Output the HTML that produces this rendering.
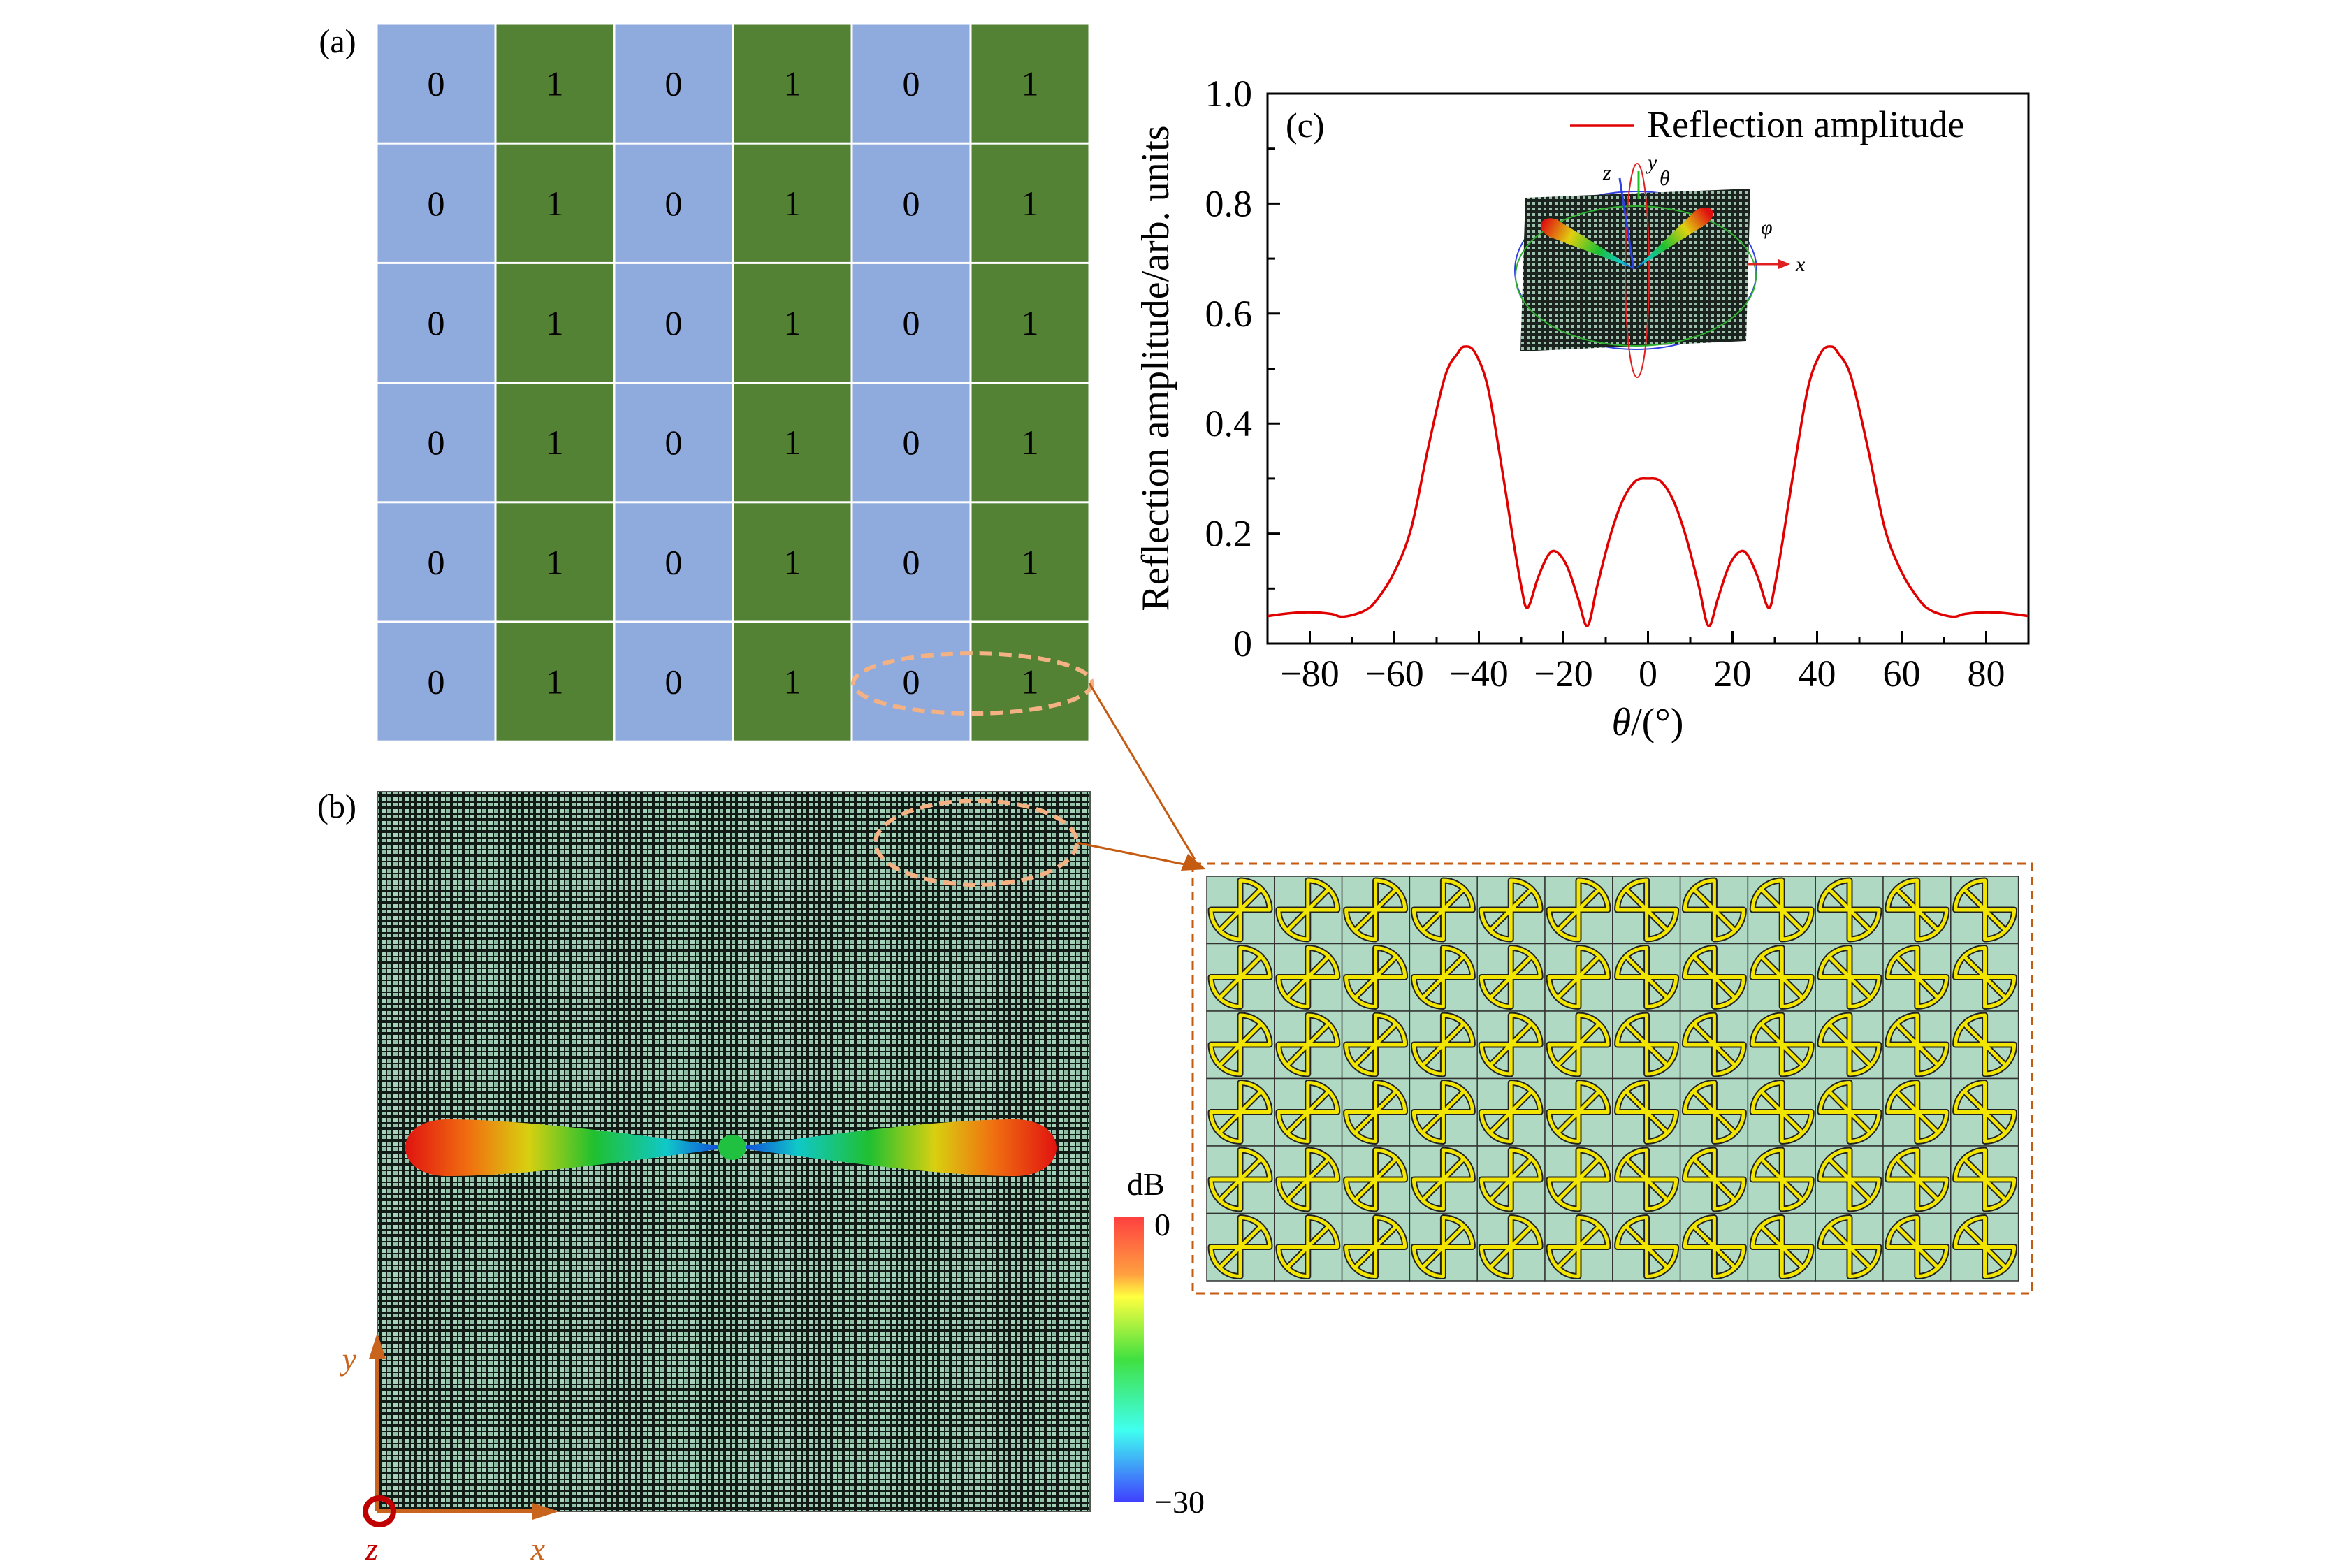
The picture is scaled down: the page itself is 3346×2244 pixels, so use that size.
<!DOCTYPE html>
<html><head><meta charset="utf-8">
<style>
html,body{margin:0;padding:0;background:#fff;}
svg{display:block;font-family:"Liberation Serif",serif;}
</style></head>
<body>
<svg id="root" width="3346" height="2244" viewBox="0 0 3346 2244" xmlns="http://www.w3.org/2000/svg">
<defs>
  <pattern id="mesh" width="17" height="17" patternUnits="userSpaceOnUse">
    <rect width="17" height="17" fill="#111a15"/>
    <rect x="2" y="2" width="6" height="6" fill="#a6d2ba"/>
    <rect x="10" y="2" width="5" height="6" fill="#8fbca4"/>
    <rect x="2" y="10" width="6" height="5" fill="#93c0a8"/>
    <rect x="10" y="10" width="5" height="5" fill="#a6d2ba"/>
  </pattern>
  <pattern id="mesh2" width="8" height="8" patternUnits="userSpaceOnUse">
    <rect width="8" height="8" fill="#1a231e"/>
    <rect x="1" y="1" width="4" height="4" fill="#9cc0ac"/>
  </pattern>
  <linearGradient id="lobeL" x1="577" y1="0" x2="1048" y2="0" gradientUnits="userSpaceOnUse">
    <stop offset="0" stop-color="#e01010"/><stop offset="0.2" stop-color="#f07010"/>
    <stop offset="0.38" stop-color="#d8d010"/><stop offset="0.58" stop-color="#20c030"/>
    <stop offset="0.8" stop-color="#10c8c8"/><stop offset="1" stop-color="#1030e0"/>
  </linearGradient>
  <linearGradient id="lobeR" x1="1515" y1="0" x2="1048" y2="0" gradientUnits="userSpaceOnUse">
    <stop offset="0" stop-color="#e01010"/><stop offset="0.2" stop-color="#f07010"/>
    <stop offset="0.38" stop-color="#d8d010"/><stop offset="0.58" stop-color="#20c030"/>
    <stop offset="0.8" stop-color="#10c8c8"/><stop offset="1" stop-color="#1030e0"/>
  </linearGradient>
  <linearGradient id="cbar" x1="0" y1="0" x2="0" y2="1">
    <stop offset="0" stop-color="#ff4040"/><stop offset="0.2" stop-color="#ffa040"/>
    <stop offset="0.28" stop-color="#ffff40"/><stop offset="0.5" stop-color="#40e040"/>
    <stop offset="0.75" stop-color="#40fff0"/><stop offset="1" stop-color="#4040ff"/>
  </linearGradient>
  <linearGradient id="ilobeL" x1="2210" y1="315" x2="2340" y2="385" gradientUnits="userSpaceOnUse">
    <stop offset="0" stop-color="#e01010"/><stop offset="0.3" stop-color="#e0d010"/>
    <stop offset="0.6" stop-color="#20c030"/><stop offset="0.85" stop-color="#10c8c8"/><stop offset="1" stop-color="#1030e0"/>
  </linearGradient>
  <linearGradient id="ilobeR" x1="2445" y1="305" x2="2340" y2="385" gradientUnits="userSpaceOnUse">
    <stop offset="0" stop-color="#e01010"/><stop offset="0.3" stop-color="#e0d010"/>
    <stop offset="0.6" stop-color="#20c030"/><stop offset="0.85" stop-color="#10c8c8"/><stop offset="1" stop-color="#1030e0"/>
  </linearGradient>
  <g id="uc">
    <rect width="96.8" height="96.5" fill="#afd9c3" stroke="#333" stroke-width="1.5"/>
    <g fill="none" stroke="#222" stroke-width="9" stroke-linejoin="round">
      <path d="M48,48 L48,6 A42,42 0 0 1 90,48 Z M48,48 L77,19"/>
      <path d="M48,48 L48,90 A42,42 0 0 1 6,48 Z M48,48 L19,77"/>
    </g>
    <g fill="none" stroke="#f2e600" stroke-width="5" stroke-linejoin="round">
      <path d="M48,48 L48,6 A42,42 0 0 1 90,48 Z M48,48 L77,19"/>
      <path d="M48,48 L48,90 A42,42 0 0 1 6,48 Z M48,48 L19,77"/>
    </g>
  </g>
</defs>

<!-- Panel (a) -->
<text x="483" y="75" font-size="48" text-anchor="middle">(a)</text>
<g id="grid-a"></g>
<ellipse cx="1392" cy="978" rx="171" ry="43" fill="none" stroke="#f4b183" stroke-width="6" stroke-dasharray="18,10"/>

<!-- Panel (b) -->
<text x="482" y="1170" font-size="48" text-anchor="middle">(b)</text>
<rect x="540" y="1133" width="1020" height="1030" fill="url(#mesh)" stroke="#555" stroke-width="2"/>
<ellipse cx="1397" cy="1206" rx="144" ry="60" fill="none" stroke="#f4b183" stroke-width="6" stroke-dasharray="18,10"/>
<path d="M1048,1642 C940,1628 760,1602 640,1602 C560,1602 560,1683 640,1683 C760,1683 940,1656 1048,1642 Z" fill="url(#lobeL)"/>
<path d="M1048,1642 C1156,1628 1336,1602 1452,1602 C1532,1602 1532,1683 1452,1683 C1336,1683 1156,1656 1048,1642 Z" fill="url(#lobeR)"/>
<ellipse cx="1048" cy="1642" rx="20" ry="18" fill="#20c040"/>
<rect x="1594" y="1742" width="43" height="407" fill="url(#cbar)"/>
<text x="1640" y="1710" font-size="46" text-anchor="middle">dB</text>
<text x="1652" y="1768" font-size="46">0</text>
<text x="1652" y="2165" font-size="46">−30</text>
<g>
  <line x1="540" y1="2163" x2="540" y2="1940" stroke="#c8641e" stroke-width="6"/>
  <polygon points="540,1907 528,1945 552,1945" fill="#c8641e"/>
  <line x1="540" y1="2163" x2="770" y2="2163" stroke="#c8641e" stroke-width="6"/>
  <polygon points="800,2163 762,2151 762,2175" fill="#c8641e"/>
  <ellipse cx="543" cy="2163" rx="20" ry="19" fill="none" stroke="#c00000" stroke-width="8"/>
  <text x="500" y="1960" font-size="46" font-style="italic" fill="#c8641e" text-anchor="middle">y</text>
  <text x="770" y="2232" font-size="46" font-style="italic" fill="#c8641e" text-anchor="middle">x</text>
  <text x="532" y="2232" font-size="46" font-style="italic" fill="#c00000" text-anchor="middle">z</text>
</g>

<!-- connectors -->
<line x1="1559" y1="978" x2="1710" y2="1230" stroke="#c55a11" stroke-width="3"/>
<line x1="1541" y1="1206" x2="1700" y2="1238" stroke="#c55a11" stroke-width="3"/>
<polygon points="1726,1244 1690,1246 1700,1222" fill="#c55a11"/>

<!-- zoom box -->
<rect x="1707" y="1236" width="1201" height="615" fill="none" stroke="#c55a11" stroke-width="3" stroke-dasharray="12,8"/>
<g id="cells"></g>

<!-- Panel (c) -->
<g id="chart">
  <g>
    <ellipse cx="2341" cy="387" rx="173" ry="113" fill="none" stroke="#3040e0" stroke-width="2"/>
    <polygon points="2183,283 2505,270 2499,488 2176,503" fill="url(#mesh2)"/>
    <ellipse cx="2341" cy="395" rx="172" ry="100" fill="none" stroke="#30b030" stroke-width="2"/>
    <ellipse cx="2343" cy="387" rx="17" ry="153" fill="none" stroke="#e02020" stroke-width="2"/>
    <path d="M2340,385 L2220,340 C2196,330 2202,306 2228,314 L2340,385 Z" fill="url(#ilobeL)"/>
    <path d="M2340,385 L2440,322 C2462,306 2450,290 2428,300 L2340,385 Z" fill="url(#ilobeR)"/>
    <line x1="2338" y1="385" x2="2318" y2="255" stroke="#3040e0" stroke-width="3"/>
    <line x1="2345" y1="285" x2="2345" y2="245" stroke="#20c020" stroke-width="3"/>
    <line x1="2500" y1="378" x2="2550" y2="378" stroke="#e02020" stroke-width="3"/>
    <polygon points="2562,378 2545,371 2545,385" fill="#e02020"/>
    <text x="2294" y="257" font-size="30" font-style="italic">z</text>
    <text x="2358" y="242" font-size="30" font-style="italic">y</text>
    <text x="2375" y="265" font-size="30" font-style="italic">θ</text>
    <text x="2570" y="388" font-size="30" font-style="italic">x</text>
    <text x="2520" y="335" font-size="30" font-style="italic">φ</text>
  </g>
  <rect x="1814" y="134" width="1089" height="787" fill="none" stroke="#000" stroke-width="3"/>
  <g id="ticks"></g>
  <path id="curve" fill="none" stroke="#e00000" stroke-width="3.5"/>
  <text x="1840" y="196" font-size="50">(c)</text>
  <line x1="2247" y1="180" x2="2338" y2="180" stroke="#e00000" stroke-width="3.5"/>
  <text x="2357" y="196" font-size="54">Reflection amplitude</text>
  <text x="2358" y="1052" font-size="56" text-anchor="middle"><tspan font-style="italic">θ</tspan>/(°)</text>
  <text transform="translate(1672,527) rotate(-90)" font-size="56" text-anchor="middle">Reflection amplitude/arb. units</text>
</g>
</svg>
<script>
const NS='http://www.w3.org/2000/svg';
// ---- panel (a) coding grid ----
const codeRow=[0,1,0,1,0,1];
const codeRows=6;
const ga=document.getElementById('grid-a');
const gx0=539,gy0=34,cw=170,ch=171.2;
for(let r=0;r<codeRows;r++){for(let c=0;c<codeRow.length;c++){
  const v=codeRow[c];
  const rc=document.createElementNS(NS,'rect');
  rc.setAttribute('x',gx0+c*cw+1.5);rc.setAttribute('y',gy0+r*ch+1.5);
  rc.setAttribute('width',cw-3);rc.setAttribute('height',ch-3);
  rc.setAttribute('fill',v?'#548235':'#8faadc');
  
  
  ga.appendChild(rc);
  const t=document.createElementNS(NS,'text');
  t.setAttribute('x',gx0+c*cw+cw/2);t.setAttribute('y',gy0+r*ch+ch/2+17);
  t.setAttribute('font-size','50');t.setAttribute('text-anchor','middle');
  t.textContent=v;
  
  
  ga.appendChild(t);
}}
// ---- unit cells ----
const cg=document.getElementById('cells');
for(let r=0;r<6;r++){for(let c=0;c<12;c++){
  const u=document.createElementNS(NS,'use');
  u.setAttribute('href','#uc');
  const x=1727+c*96.8,y=1254+r*96.5;
  if(c<6)u.setAttribute('transform',`translate(${x},${y})`);
  else u.setAttribute('transform',`translate(${x+96.8},${y}) scale(-1,1)`);
  
  
  cg.appendChild(u);
}}
// ---- chart (c) ----
const theta=[-90,-85,-80,-75,-72,-67,-64,-60,-56,-52,-48,-45,-43.4,-41,-38,-35,-32,-30,-28.5,-26,-23.5,-21.5,-19,-16.5,-14.3,-12,-9,-6,-3,0,3,6,9,12,14.3,16.5,19,21.5,23.5,26,28.5,30,32,35,38,41,43.4,45,48,52,56,60,64,67,72,75,80,85,90];
const amp=[0.050,0.055,0.057,0.054,0.049,0.060,0.081,0.13,0.21,0.356,0.486,0.528,0.54,0.53,0.47,0.34,0.194,0.105,0.065,0.12,0.162,0.166,0.138,0.081,0.032,0.105,0.194,0.26,0.295,0.30,0.295,0.26,0.194,0.105,0.032,0.081,0.138,0.166,0.162,0.12,0.065,0.105,0.194,0.34,0.47,0.53,0.54,0.528,0.486,0.356,0.21,0.13,0.081,0.060,0.049,0.054,0.057,0.055,0.050];
const xTicks=[-80,-60,-40,-20,0,20,40,60,80];
const xTickLabels=['−80','−60','−40','−20','0','20','40','60','80'];
const yTicks=[0,0.2,0.4,0.6,0.8,1.0];
const yTickLabels=['0','0.2','0.4','0.6','0.8','1.0'];
const X0=1814,X1=2903,Y0=921,Y1=134;
const sx=v=>X0+(v+90)/180*(X1-X0);
const sy=v=>Y0-v/1.0*(Y0-Y1);
const tg=document.getElementById('ticks');
function ln(x1,y1,x2,y2,name){const l=document.createElementNS(NS,'line');
  l.setAttribute('x1',x1);l.setAttribute('y1',y1);l.setAttribute('x2',x2);l.setAttribute('y2',y2);
  l.setAttribute('stroke','#000');l.setAttribute('stroke-width','3');
  
  
  tg.appendChild(l);}
function tx(x,y,s,anchor,name){const t=document.createElementNS(NS,'text');
  t.setAttribute('x',x);t.setAttribute('y',y);t.setAttribute('font-size','54');t.setAttribute('text-anchor',anchor);t.textContent=s;
  
  
  tg.appendChild(t);}
xTicks.forEach((v,i)=>{ln(sx(v),Y0,sx(v),Y0-18,'x-tick');tx(sx(v),982,xTickLabels[i],'middle','x-tick-label');
  if(v+10<90)ln(sx(v+10),Y0,sx(v+10),Y0-10,'x-minor-tick');});
ln(sx(-90),Y0,sx(-90),Y0-10,'x-minor-tick');
yTicks.forEach((v,i)=>{ln(X0,sy(v),X0+18,sy(v),'y-tick');tx(1792,sy(v)+18,yTickLabels[i],'end','y-tick-label');
  if(v<1)ln(X0,sy(v+0.1),X0+10,sy(v+0.1),'y-minor-tick');});
// smooth curve (Catmull-Rom)
const P=theta.map((t,i)=>[sx(t),sy(amp[i])]);
let d=`M${P[0][0]},${P[0][1]}`;
for(let i=0;i<P.length-1;i++){
  const p0=P[i-1]||P[i],p1=P[i],p2=P[i+1],p3=P[i+2]||P[i+1];
  const c1=[p1[0]+(p2[0]-p0[0])/6,p1[1]+(p2[1]-p0[1])/6];
  const c2=[p2[0]-(p3[0]-p1[0])/6,p2[1]-(p3[1]-p1[1])/6];
  d+=` C${c1[0]},${c1[1]} ${c2[0]},${c2[1]} ${p2[0]},${p2[1]}`;
}
document.getElementById('curve').setAttribute('d',d);
</script>
</body></html>
